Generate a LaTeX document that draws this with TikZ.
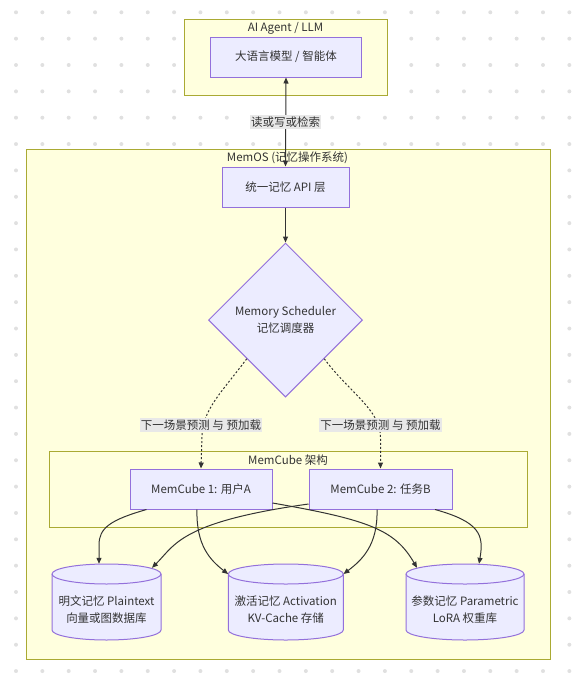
\documentclass[tikz,border=0pt]{standalone}
\usepackage{fontspec}
\setmainfont{Noto Sans CJK SC}
\usetikzlibrary{arrows.meta,shapes.geometric}
\definecolor{dotc}{HTML}{E0E0E0}
\definecolor{clfill}{HTML}{FFFFDE}
\definecolor{cldraw}{HTML}{AAAA33}
\definecolor{ndfill}{HTML}{ECECFF}
\definecolor{nddraw}{HTML}{9370DB}
\definecolor{txt}{HTML}{333333}
\definecolor{lblbg}{HTML}{E8E8E8}
\definecolor{edgec}{HTML}{333333}
\newcommand\mycylshape[4]{%
  \filldraw[draw=nddraw, fill=ndfill, line width=1pt]
    ({#1-#3/2},{#2+#4/2-10}) -- ({#1-#3/2},{#2-#4/2+10})
    arc[start angle=180, end angle=360, x radius=#3/2, y radius=10]
    -- ({#1+#3/2},{#2+#4/2-10})
    arc[start angle=0, end angle=180, x radius=#3/2, y radius=10] -- cycle;
  \draw[nddraw, line width=1pt] ({#1-#3/2},{#2+#4/2-10})
    arc[start angle=180, end angle=360, x radius=#3/2, y radius=10];}
\begin{document}
\begin{tikzpicture}[x=1pt,y=1pt,
  every node/.style={text=txt, font=\fontsize{11.5}{17}\selectfont},
  cluster/.style={draw=cldraw, fill=clfill, line width=1pt, inner sep=0, anchor=north west},
  box/.style={draw=nddraw, fill=ndfill, line width=1pt, inner sep=0, minimum height=40},
  cylbody/.style={inner sep=0, minimum height=76},
  lbl/.style={fill=lblbg, inner xsep=1pt, inner ysep=2pt},
  edge/.style={draw=edgec, line width=1pt, -{Triangle[length=6pt,width=5pt]}},
  dottededge/.style={edge, dash pattern=on 2pt off 2pt}
]
\useasboundingbox (0,0) rectangle (585,-681);
% dot grid
\foreach \i in {0,...,21}{
  \foreach \j in {0,...,25}{
    \fill[dotc] ({16+26.35*\i},{-12.3-26.35*\j}) circle (2);
  }
}
% clusters
\node[cluster, minimum width=203, minimum height=76] (agentgrp) at (184,-19) {};
\node (agentttl) at (285.5,-28) {AI Agent / LLM};
\node[cluster, minimum width=524, minimum height=510] (memosgrp) at (26,-149) {};
\node (memosttl) at (287.5,-158) {MemOS (记忆操作系统)};
\node[cluster, minimum width=478, minimum height=76] (cubegrp) at (49,-451) {};
\node (cubettl) at (288,-460) {MemCube 架构};
% nodes
\node[box, minimum width=151] (llm) at (286,-57) {大语言模型 / 智能体};
\node[box, minimum width=127] (api) at (285.5,-187) {统一记忆 API 层};
\node[diamond, draw=nddraw, fill=ndfill, line width=1pt, aspect=1, inner sep=0,
      minimum width=154, minimum height=154, align=center] (sched) at (285.5,-320)
      {Memory Scheduler\\记忆调度器};
\node[box, minimum width=142] (mc1) at (201,-489) {MemCube 1: 用户A};
\node[box, minimum width=143] (mc2) at (380.5,-489) {MemCube 2: 任务B};
% cylinders
\mycylshape{106.5}{-602}{109}{76}
\node[cylbody, minimum width=109] (c1) at (106.5,-602) {};
\node[align=center] (c1t) at (106.5,-609.5) {明文记忆 Plaintext\\向量或图数据库};
\mycylshape{285.8}{-602}{115}{76}
\node[cylbody, minimum width=115] (c2) at (285.8,-602) {};
\node[align=center] (c2t) at (285.8,-609.5) {激活记忆 Activation\\KV-Cache 存储};
\mycylshape{465}{-602}{118}{76}
\node[cylbody, minimum width=118] (c3) at (465,-602) {};
\node[align=center] (c3t) at (465,-609.5) {参数记忆 Parametric\\LoRA 权重库};
% edges
\draw[edge, {Triangle[length=6pt,width=5pt]}-{Triangle[length=6pt,width=5pt]}] (llm.south) -- (api.north);
\node[lbl] (l1) at (285.5,-122) {读或写或检索};
\draw[edge] (api.south) -- (sched.north);
\draw[dottededge] (sched.south west) .. controls (222,-392) and (202,-410) .. (202,-437) -- (mc1.north);
\draw[dottededge] (sched.south east) .. controls (349,-392) and (380.5,-410) .. (380.5,-437) -- (mc2.north);
\node[lbl] (l2) at (201,-425) {下一场景预测 与 预加载};
\node[lbl] (l3) at (380.5,-425) {下一场景预测 与 预加载};
\draw[edge] ([xshift=17]mc1.south west) .. controls (110,-520) and (99,-528) .. (99,-545) -- ([xshift=-7.5]c1.north);
\draw[edge] ([yshift=-15]mc2.west) .. controls (180,-522) and (175,-545) .. ([shift={(45.5,-4)}]c1.north);
\draw[edge] ([xshift=-4]mc1.south) .. controls (196,-545) and (210,-560) .. ([yshift=28]c2.west);
\draw[edge] ([xshift=-3.5]mc2.south) .. controls (378,-545) and (362,-560) .. ([yshift=28]c2.east);
\draw[edge] ([yshift=-14]mc1.east) .. controls (370,-520) and (395,-530) .. ([shift={(-48,-4)}]c3.north);
\draw[edge] ([xshift=54.5]mc2.south) .. controls (480,-522) and (484,-535) .. ([xshift=14]c3.north);
\end{tikzpicture}
\end{document}
